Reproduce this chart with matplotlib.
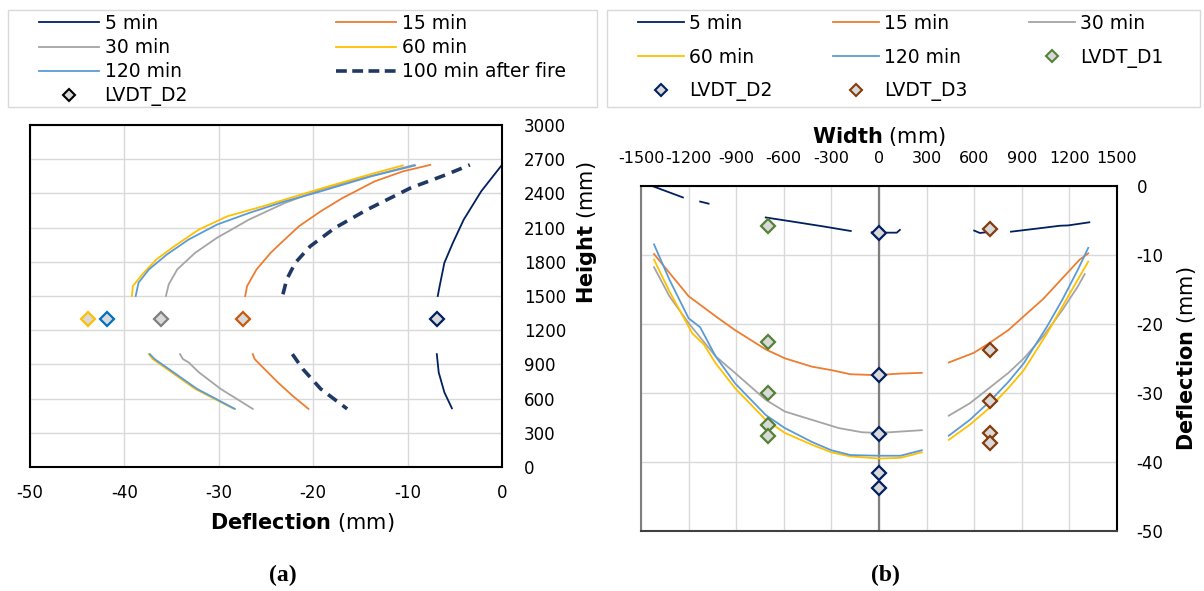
import matplotlib
matplotlib.use("Agg")
import matplotlib.pyplot as plt
from matplotlib.lines import Line2D
from matplotlib.patches import Rectangle
import numpy as np

plt.rcParams["font.family"] = ["DejaVu Sans"]
plt.rcParams["mathtext.fontset"] = "dejavusans"
plt.rcParams["axes.unicode_minus"] = False

# colours (Excel palette)
C5 = "#002060"
C15 = "#ED7D31"
C30 = "#A5A5A5"
C60 = "#FFC000"
C120 = "#5B9BD5"
CAFTER = "#203864"
nan = np.nan

# ---------------- (a) deflection along height ----------------
h_up_5 = [1500, 1587, 1791, 1966, 2170, 2418, 2650]
d_up_5 = [-6.8, -6.6, -6.1, -5.2, -4.05, -2.2, 0.0]
h_lo_5 = [990, 830, 655, 515]
d_lo_5 = [-6.9, -6.7, -6.1, -5.3]

h_up_15 = [1500, 1587, 1733, 1879, 1966, 2112, 2243, 2359, 2505, 2593, 2650]
d_up_15 = [-27.2, -27.0, -26.0, -24.5, -23.4, -21.5, -19.2, -16.9, -13.5, -10.5, -7.6]
h_lo_15 = [990, 947, 888, 743, 626, 510]
d_lo_15 = [-26.4, -26.2, -25.5, -23.75, -22.2, -20.5]

h_up_30 = [1500, 1602, 1733, 1879, 2010, 2170, 2316, 2432, 2520, 2650]
d_up_30 = [-35.6, -35.3, -34.4, -32.5, -30.2, -26.8, -23.0, -19.2, -15.4, -9.3]
h_lo_30 = [990, 947, 918, 830, 685, 510]
d_lo_30 = [-34.1, -33.8, -33.2, -32.1, -29.8, -26.4]

h_up_60 = [1500, 1587, 1690, 1821, 1937, 2083, 2199, 2287, 2374, 2461, 2578, 2645]
d_up_60 = [-39.2, -39.1, -38.1, -36.6, -34.7, -32.1, -29.1, -25.3, -21.9, -18.4, -13.5, -10.5]
h_lo_60 = [990, 947, 860, 685, 510]
d_lo_60 = [-37.4, -37.0, -35.5, -32.5, -28.4]

h_up_120 = [1500, 1617, 1733, 1864, 1995, 2126, 2228, 2330, 2418, 2549, 2645]
d_up_120 = [-38.8, -38.5, -37.4, -35.5, -33.2, -30.2, -26.8, -23.0, -19.2, -13.9, -9.2]
h_lo_120 = [990, 947, 860, 685, 510]
d_lo_120 = [-37.3, -36.8, -35.3, -32.3, -28.3]

h_up_after = [1515, 1646, 1791, 1937, 2097, 2257, 2447, 2563, 2650]
d_up_after = [-23.2, -22.8, -21.9, -20.3, -17.7, -14.3, -9.7, -5.95, -3.4]
h_lo_after = [990, 860, 685, 510]
d_lo_after = [-22.2, -21.1, -19.2, -16.4]

lvdt_h = 1300
lvdt_a_defl = [-6.9, -27.4, -36.1, -43.9, -41.8]
lvdt_a_edge = [C5, "#C55A11", "#7F7F7F", C60, "#0070C0"]

# ---------------- (b) deflection along width ----------------
w_5 = [-1423, -1236, nan, -1127, -1074, nan, -714, -544, -350, -178, nan,
       -46, 0, 51, 112, 132, nan, 600, 636, 690, nan, 832, 1035, 1140, 1193, 1326]
v_5 = [-0.1, -1.7, nan, -2.3, -2.6, nan, -4.6, -5.2, -5.9, -6.56, nan,
       -6.75, -6.85, -6.8, -6.8, -6.4, nan, -6.5, -6.85, -6.7, nan, -6.66, -6.1, -5.8, -5.75, -5.3]

w_15 = [-1418, -1200, -1030, -908, -714, -593, -423, -301, -180, -58, 0, 136, 270, nan,
        440, 598, 695, 816, 913, 1035, 1156, 1265, 1319]
v_15 = [-9.9, -16.0, -18.9, -20.9, -23.7, -25.0, -26.2, -26.7, -27.3, -27.4, -27.4, -27.2, -27.1, nan,
        -25.6, -24.2, -22.8, -20.9, -18.9, -16.4, -13.4, -10.7, -9.8]

w_30 = [-1418, -1321, -1200, -1030, -908, -714, -593, -423, -253, -107, 0, 136, 270, nan,
        440, 573, 695, 816, 913, 1035, 1156, 1253, 1297]
v_30 = [-11.8, -16.0, -19.9, -24.7, -27.1, -31.0, -32.7, -33.9, -35.1, -35.7, -35.8, -35.6, -35.4, nan,
        -33.3, -31.5, -29.3, -27.1, -25.0, -21.8, -18.0, -14.6, -12.8]

w_60 = [-1418, -1321, -1176, -1103, -1030, -908, -714, -593, -423, -301, -180, 0, 136, 270, nan,
        440, 573, 695, 816, 913, 1059, 1156, 1253, 1319]
v_60 = [-10.7, -15.3, -21.4, -23.0, -25.7, -29.3, -33.9, -35.8, -37.5, -38.6, -39.2, -39.5, -39.4, -38.6, nan,
        -36.8, -34.6, -32.2, -29.3, -26.7, -21.4, -17.5, -13.6, -11.0]

w_120 = [-1418, -1321, -1200, -1127, -1030, -908, -714, -593, -423, -301, -180, 0, 136, 270, nan,
         440, 573, 695, 816, 913, 1059, 1156, 1253, 1319]
v_120 = [-8.5, -13.6, -19.2, -20.5, -24.7, -28.6, -33.2, -35.1, -37.1, -38.3, -39.0, -39.1, -39.1, -38.3, nan,
         -36.2, -33.9, -31.3, -28.4, -25.7, -20.4, -16.5, -12.2, -9.0]

d1_w, d2_w, d3_w = -700, 0, 700
d1_v = [-5.8, -22.7, -30.0, -34.6, -36.2]
d2_v = [-6.9, -27.4, -35.9, -41.6, -43.8]
d3_v = [-6.2, -23.8, -31.2, -35.8, -37.2]

fig = plt.figure(figsize=(12.04, 5.91), dpi=100)
grid_c = "#D9D9D9"
tick_fs = 12
leg_fs = 13.5

# legend frames (figure pixels -> fractions)
W, H = 1204, 591
for x0, y0, x1, y1 in [(8, 10, 597, 107), (607, 10, 1200, 107)]:
    fig.add_artist(Rectangle((x0 / W, 1 - y1 / H), (x1 - x0) / W, (y1 - y0) / H,
                             transform=fig.transFigure, fill=False,
                             edgecolor=grid_c, lw=1.0))

# ---------- panel (a) ----------
ax1 = fig.add_axes([0.0249, 0.2098, 0.392, 0.5787])
series_a = [
    (d_up_5, h_up_5, d_lo_5, h_lo_5, C5),
    (d_up_15, h_up_15, d_lo_15, h_lo_15, C15),
    (d_up_30, h_up_30, d_lo_30, h_lo_30, C30),
    (d_up_60, h_up_60, d_lo_60, h_lo_60, C60),
    (d_up_120, h_up_120, d_lo_120, h_lo_120, C120),
]
for du, hu, dl, hl, c in series_a:
    ax1.plot(du, hu, color=c, lw=1.3)
    ax1.plot(dl, hl, color=c, lw=1.3)
ax1.plot(d_up_after, h_up_after, color=CAFTER, ls=(0, (3, 2)), lw=2.6)
ax1.plot(d_lo_after, h_lo_after, color=CAFTER, ls=(0, (3, 2)), lw=2.6)
for d, ec in zip(lvdt_a_defl, lvdt_a_edge):
    ax1.plot(d, lvdt_h, marker="D", ms=7, mfc="#D9D9D9", mec=ec, mew=1.6, ls="none")

ax1.set_xlim(-50, 0)
ax1.set_ylim(0, 3000)
ax1.set_xticks(np.arange(-50, 1, 10))
ax1.set_yticks(np.arange(0, 3001, 300))
ax1.yaxis.tick_right()
ax1.yaxis.set_label_position("right")
ax1.tick_params(length=0, labelsize=tick_fs, colors="#000000")
ax1.tick_params(axis="y", pad=16)
ax1.tick_params(axis="x", pad=12)
ax1.grid(True, color=grid_c, lw=1)
ax1.set_axisbelow(True)
for s in ax1.spines.values():
    s.set_linewidth(1.5)
ax1.set_xlabel(r"$\bf{Deflection}$ (mm)", fontsize=15)
ax1.xaxis.set_label_coords(0.576, -0.13)
ax1.set_ylabel(r"$\bf{Height}$ (mm)", fontsize=15)
ax1.yaxis.set_label_coords(1.154, 0.685)

h_a = [
    Line2D([], [], color=C5, lw=1.3),
    Line2D([], [], color=C30, lw=1.3),
    Line2D([], [], color=C120, lw=1.3),
    Line2D([], [], marker="D", ms=6, mfc="#D9D9D9", mec="#000000", mew=1.5, ls="none"),
    Line2D([], [], color=C15, lw=1.3),
    Line2D([], [], color=C60, lw=1.3),
    Line2D([], [], color=CAFTER, ls=(0, (3, 1.5)), lw=2.6),
]
l_a = ["5 min", "30 min", "120 min", "LVDT_D2", "15 min", "60 min", "100 min after fire"]
fig.legend(h_a, l_a, ncol=2, loc="upper left", bbox_to_anchor=(39 / W, 1 - 14 / H),
           fontsize=leg_fs, frameon=False, handlelength=3.2, handletextpad=0.3,
           labelspacing=0.27, columnspacing=7.9, borderpad=0, borderaxespad=0)

# ---------- panel (b) ----------
ax2 = fig.add_axes([0.5324, 0.1015, 0.3953, 0.5843])
ax2.axvline(0, color="#7F7F7F", lw=1.6, zorder=1.5)
ax2.plot(w_5, v_5, color=C5, lw=1.3)
ax2.plot(w_15, v_15, color=C15, lw=1.3)
ax2.plot(w_30, v_30, color=C30, lw=1.3)
ax2.plot(w_60, v_60, color=C60, lw=1.3)
ax2.plot(w_120, v_120, color=C120, lw=1.3)
ax2.plot([d1_w] * len(d1_v), d1_v, marker="D", ms=7, mfc="#D9D9D9", mec="#548235", mew=1.6, ls="none")
ax2.plot([d3_w] * len(d3_v), d3_v, marker="D", ms=7, mfc="#D9D9D9", mec="#843C0C", mew=1.6, ls="none")
ax2.plot([d2_w] * len(d2_v), d2_v, marker="D", ms=7, mfc="#D9D9D9", mec=C5, mew=1.6, ls="none")

ax2.set_xlim(-1500, 1500)
ax2.set_ylim(-50, 0)
ax2.set_xticks(np.arange(-1500, 1501, 300))
ax2.set_yticks(np.arange(-50, 1, 10))
ax2.xaxis.tick_top()
ax2.xaxis.set_label_position("top")
ax2.yaxis.tick_right()
ax2.yaxis.set_label_position("right")
ax2.tick_params(length=0, labelsize=tick_fs)
ax2.tick_params(axis="x", pad=14, labelsize=11.5)
ax2.tick_params(axis="y", pad=14)
ax2.grid(True, color=grid_c, lw=1)
ax2.set_axisbelow(True)
for s in ax2.spines.values():
    s.set_linewidth(1.5)
ax2.spines["left"].set_color("#7F7F7F")
ax2.spines["bottom"].set_color("#404040")
ax2.set_xlabel(r"$\bf{Width}$ (mm)", fontsize=15, labelpad=6)
ax2.set_ylabel(r"$\bf{Deflection}$ (mm)", fontsize=15, labelpad=8)

def dmark(ec):
    return Line2D([], [], marker="D", ms=6, mfc="#D9D9D9", mec=ec, mew=1.5, ls="none")

h_b = [
    Line2D([], [], color=C5, lw=1.3),
    Line2D([], [], color=C60, lw=1.3),
    dmark(C5),
    Line2D([], [], color=C15, lw=1.3),
    Line2D([], [], color=C120, lw=1.3),
    dmark("#843C0C"),
    Line2D([], [], color=C30, lw=1.3),
    dmark("#548235"),
]
l_b = ["5 min", "60 min", "LVDT_D2", "15 min", "120 min", "LVDT_D3", "30 min", "LVDT_D1"]
fig.legend(h_b, l_b, ncol=3, loc="upper left", bbox_to_anchor=(638 / W, 1 - 14 / H),
           fontsize=leg_fs, frameon=False, handlelength=2.45, handletextpad=0.27,
           labelspacing=0.78, columnspacing=3.25, borderpad=0, borderaxespad=0)

fig.text(0.235, 0.027, "(a)", fontsize=17, fontweight="bold",
         family="Liberation Serif", ha="center", va="center")
fig.text(0.735, 0.027, "(b)", fontsize=17, fontweight="bold",
         family="Liberation Serif", ha="center", va="center")

fig.savefig("out.png", dpi=100)
